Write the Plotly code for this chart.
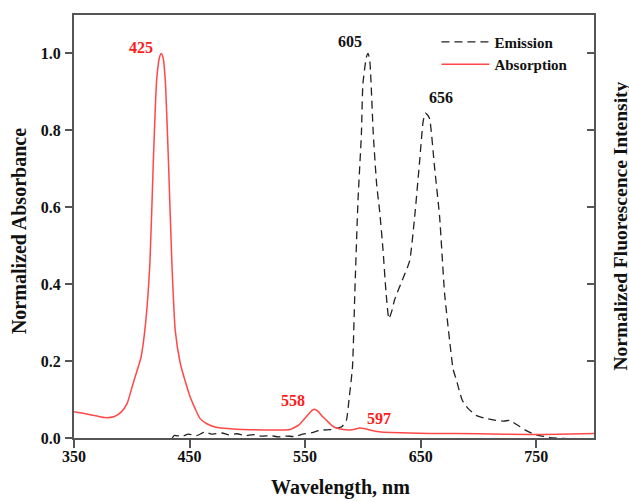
import plotly.graph_objects as go

# ---- data ----
abs_wl = [350, 360, 370, 377, 385, 391, 396, 400, 403, 408, 412, 415.7, 418.6, 421.5, 424, 425.5,
          427, 429, 431.8, 434.7, 437.6, 441.9, 446, 450.5, 455, 459, 465, 473, 485, 496, 520, 537,
          545, 551, 556, 558, 561, 565, 568.5, 573, 577, 583, 589, 593, 597, 601, 607, 614, 625,
          640, 658, 700, 744, 770, 800]
abs_val = [0.068, 0.063, 0.057, 0.053, 0.056, 0.068, 0.09, 0.13, 0.16, 0.21, 0.30, 0.455, 0.715, 0.93,
           0.99, 1.0, 0.99, 0.93, 0.715, 0.455, 0.28, 0.195, 0.15, 0.107, 0.075, 0.051, 0.037, 0.028,
           0.024, 0.022, 0.021, 0.022, 0.035, 0.055, 0.072, 0.075, 0.07, 0.056, 0.046, 0.033, 0.026,
           0.022, 0.021, 0.023, 0.026, 0.025, 0.02, 0.016, 0.014, 0.013, 0.012, 0.011, 0.009, 0.010,
           0.012]

em_wl = [435, 437, 443, 449, 456, 463, 470, 478, 484, 491, 498, 505, 512, 520, 527, 534, 541, 548,
         556, 563, 572, 577, 582, 585.7, 588, 591, 593, 595.8, 598.7, 600, 603, 604.5, 606, 609,
         611.9, 614.5, 617.4, 620, 622.5, 625, 627.5, 634, 640.4, 644.8, 649.1, 652, 654, 656,
         657.8, 662, 666.4, 670.7, 675, 678, 681, 686, 691, 698, 705, 715, 722, 727, 733, 741,
         748, 755, 765, 780, 800]
em_val = [0.0, 0.007, 0.004, 0.01, 0.006, 0.015, 0.01, 0.013, 0.008, 0.011, 0.006, 0.009, 0.005,
          0.006, 0.003, 0.005, 0.004, 0.01, 0.014, 0.02, 0.022, 0.025, 0.03, 0.046, 0.1, 0.185,
          0.376, 0.62, 0.79, 0.92, 0.99, 1.0, 0.98, 0.79, 0.66, 0.59, 0.49, 0.38, 0.31, 0.33,
          0.36, 0.41, 0.46, 0.575, 0.72, 0.82, 0.845, 0.84, 0.83, 0.705, 0.575, 0.376, 0.255,
          0.18, 0.15, 0.098, 0.077, 0.059, 0.052, 0.046, 0.044, 0.046, 0.035, 0.02, 0.01, 0.005,
          0.0, -0.002, -0.002]

x_ticks = [350, 450, 550, 650, 750]
y_ticks = [0.0, 0.2, 0.4, 0.6, 0.8, 1.0]
y_ticklabels = ["0.0", "0.2", "0.4", "0.6", "0.8", "1.0"]

peak_labels = ["425", "605", "656", "558", "597"]
peak_x = [407.6, 589.2, 667.8, 539.3, 613.6]
peak_y = [1.015, 1.03, 0.885, 0.098, 0.051]
peak_colors = ["#ff1a1a", "#111111", "#111111", "#ff1a1a", "#ff1a1a"]

FONT = "Liberation Serif, Times New Roman, serif"
AX = "#555555"

fig = go.Figure()
fig.add_trace(go.Scatter(x=em_wl, y=em_val, mode="lines", name="Emission",
                         line=dict(color="#222222", width=1.3, dash="8px,5px", shape="spline",
                                   smoothing=0.5)))
fig.add_trace(go.Scatter(x=abs_wl, y=abs_val, mode="lines", name="Absorption",
                         line=dict(color="#ff4848", width=1.5, shape="spline", smoothing=0.5)))
# invisible trace to activate the right axis
fig.add_trace(go.Scatter(x=[350], y=[0], yaxis="y2", mode="lines", showlegend=False,
                         hoverinfo="skip", line=dict(width=0)))

for t, x, y, c in zip(peak_labels, peak_x, peak_y, peak_colors):
    fig.add_annotation(x=x, y=y, text=t, showarrow=False,
                       font=dict(family=FONT, size=16, color=c, weight="bold"))

fig.add_annotation(xref="paper", yref="paper", x=-0.107, y=0.49, xanchor="center", yanchor="middle",
                   text="Normalized Absorbance", textangle=-90, showarrow=False,
                   font=dict(family=FONT, size=20, color="#111", weight="bold"))
fig.add_annotation(xref="paper", yref="paper", x=1.05, y=0.5, xanchor="center", yanchor="middle",
                   text="Normalized Fluorescence Intensity", textangle=-90, showarrow=False,
                   font=dict(family=FONT, size=19.5, color="#111", weight="bold"))
fig.add_annotation(xref="paper", yref="paper", x=0.512, y=-0.118, xanchor="center", yanchor="middle",
                   text="Wavelength, nm", showarrow=False,
                   font=dict(family=FONT, size=20, color="#111", weight="bold"))

fig.update_layout(
    width=629, height=502,
    margin=dict(l=74, r=35, t=15, b=64),
    paper_bgcolor="white", plot_bgcolor="white",
    showlegend=True,
    legend=dict(x=0.697, y=0.975, xanchor="left", yanchor="top", bgcolor="rgba(0,0,0,0)",
                font=dict(family=FONT, size=15, color="#111", weight="bold"),
                tracegroupgap=0, itemwidth=48),
    xaxis=dict(range=[350, 800], tickvals=x_ticks, ticks="outside", ticklen=8, tickwidth=1.5,
               tickcolor=AX, showline=True, linecolor=AX, linewidth=2, mirror=True,
               showgrid=False, zeroline=False, ticklabelstandoff=-5, automargin=False,
               tickfont=dict(family=FONT, size=16, color="#111", weight="bold")),
    yaxis=dict(range=[0, 1.1], tickvals=y_ticks, ticktext=y_ticklabels, ticks="outside",
               ticklen=7, tickwidth=1.5, tickcolor=AX, showline=True, linecolor=AX, linewidth=2,
               showgrid=False, zeroline=False, ticklabelstandoff=1, automargin=False,
               tickfont=dict(family=FONT, size=16, color="#111", weight="bold")),
    yaxis2=dict(range=[0, 1.1], overlaying="y", side="right", tickvals=y_ticks, ticks="inside",
                ticklen=7, tickwidth=1.5, tickcolor=AX, showline=True, linecolor=AX,
                linewidth=2, showticklabels=False, showgrid=False, zeroline=False,
                automargin=False),
)

fig.write_html("out.html")
